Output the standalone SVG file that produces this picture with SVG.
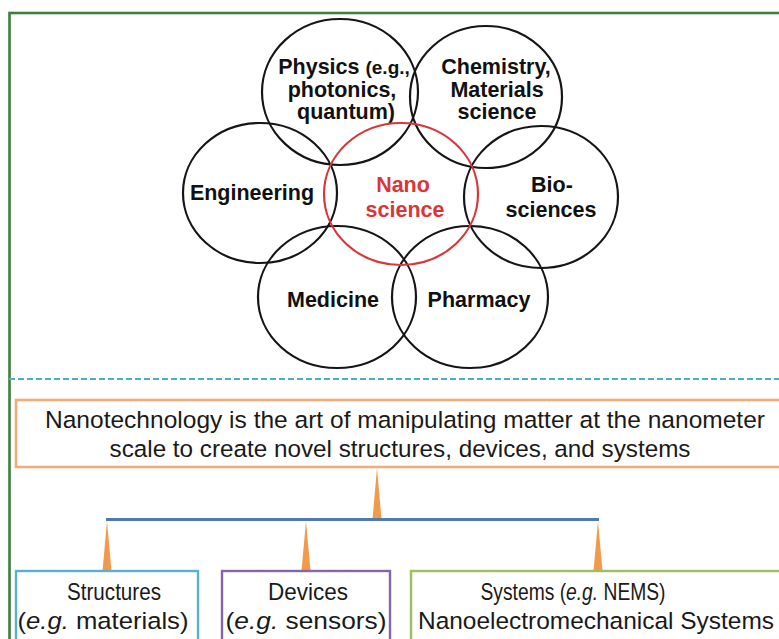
<svg xmlns="http://www.w3.org/2000/svg" width="779" height="639" viewBox="0 0 779 639">
  <style>
    .ring { fill: none; stroke: #151515; stroke-width: 2.2; }
    .ring-nano { fill: none; stroke: #d8373a; stroke-width: 2.2; }
    .lbl { font-family: "Liberation Sans", Arial, sans-serif; font-weight: bold; font-size: 21.5px; fill: #111; text-anchor: middle; }
    .lbl-sm { font-size: 19px; }
    .lbl-nano { fill: #d8373a; }
    .body { font-family: "Liberation Sans", Arial, sans-serif; font-size: 24.5px; fill: #1a1a1a; text-anchor: middle; }
    .it { font-style: italic; }
    .taper { fill: #f29a4c; }
  </style>

  <rect width="779" height="639" fill="#ffffff"/>

  <!-- outer frame -->
  <g id="frame">
    <rect x="9.5" y="13" width="790" height="640" fill="none" stroke="#3a7f3a" stroke-width="2.6"/>
  </g>

  <!-- disciplines around nanoscience -->
  <g id="physics">
    <ellipse class="ring" cx="340" cy="92" rx="78" ry="73"/>
    <text class="lbl" x="344" y="74">Physics <tspan class="lbl-sm">(e.g.,</tspan></text>
    <text class="lbl" x="342" y="97">photonics,</text>
    <text class="lbl" x="346" y="119">quantum)</text>
  </g>
  <g id="chemistry">
    <ellipse class="ring" cx="486" cy="97" rx="76" ry="71"/>
    <text class="lbl" x="496" y="74">Chemistry,</text>
    <text class="lbl" x="497" y="97">Materials</text>
    <text class="lbl" x="497" y="119">science</text>
  </g>
  <g id="engineering">
    <ellipse class="ring" cx="260" cy="193" rx="77" ry="70"/>
    <text class="lbl" x="252" y="200">Engineering</text>
  </g>
  <g id="biosciences">
    <ellipse class="ring" cx="541" cy="197" rx="77" ry="71"/>
    <text class="lbl" x="552" y="192">Bio-</text>
    <text class="lbl" x="551" y="217">sciences</text>
  </g>
  <g id="medicine">
    <ellipse class="ring" cx="337" cy="297" rx="79" ry="71"/>
    <text class="lbl" x="333" y="307">Medicine</text>
  </g>
  <g id="pharmacy">
    <ellipse class="ring" cx="470" cy="297" rx="78" ry="71"/>
    <text class="lbl" x="479" y="307">Pharmacy</text>
  </g>
  <g id="nanoscience">
    <ellipse class="ring-nano" cx="401" cy="194" rx="77" ry="71"/>
    <text class="lbl lbl-nano" x="403" y="192">Nano</text>
    <text class="lbl lbl-nano" x="405" y="217">science</text>
  </g>

  <!-- section divider -->
  <line x1="9" y1="379" x2="779" y2="379" stroke="#4bafc9" stroke-width="2" stroke-dasharray="6 3"/>

  <!-- definition -->
  <g id="definition">
    <rect x="16" y="400" width="772" height="67" fill="#ffffff" stroke="#f0ad78" stroke-width="2.6"/>
    <text class="body" x="405" y="428" textLength="720" lengthAdjust="spacingAndGlyphs">Nanotechnology is the art of manipulating matter at the nanometer</text>
    <text class="body" x="400" y="457" textLength="581" lengthAdjust="spacingAndGlyphs">scale to create novel structures, devices, and systems</text>
  </g>

  <!-- tree connectors -->
  <g id="connectors">
    <polygon class="taper" points="377,468 372.5,519 381.5,519"/>
    <line x1="106" y1="519.5" x2="599" y2="519.5" stroke="#4f79b0" stroke-width="3"/>
    <polygon class="taper" points="107,521 102.5,571 111.5,571"/>
    <polygon class="taper" points="306,521 301.5,571 310.5,571"/>
    <polygon class="taper" points="598,521 593.5,571 602.5,571"/>
  </g>

  <!-- outcomes -->
  <g id="structures">
    <rect x="16" y="571" width="182" height="72" fill="#ffffff" stroke="#55b3cb" stroke-width="2.4"/>
    <text class="body" x="114" y="600" textLength="94" lengthAdjust="spacingAndGlyphs">Structures</text>
    <text class="body" x="103" y="629" textLength="171" lengthAdjust="spacingAndGlyphs">(<tspan class="it">e.g.</tspan> materials)</text>
  </g>
  <g id="devices">
    <rect x="222" y="571" width="168" height="72" fill="#ffffff" stroke="#8466ac" stroke-width="2.4"/>
    <text class="body" x="308" y="600" textLength="80" lengthAdjust="spacingAndGlyphs">Devices</text>
    <text class="body" x="306" y="629" textLength="161" lengthAdjust="spacingAndGlyphs">(<tspan class="it">e.g.</tspan> sensors)</text>
  </g>
  <g id="systems">
    <rect x="411" y="571" width="374" height="72" fill="#ffffff" stroke="#9cc05e" stroke-width="2.4"/>
    <text class="body" x="573" y="600" textLength="185" lengthAdjust="spacingAndGlyphs">Systems (<tspan class="it">e.g.</tspan> NEMS)</text>
    <text class="body" x="596" y="629" textLength="356" lengthAdjust="spacingAndGlyphs">Nanoelectromechanical Systems</text>
  </g>
</svg>
